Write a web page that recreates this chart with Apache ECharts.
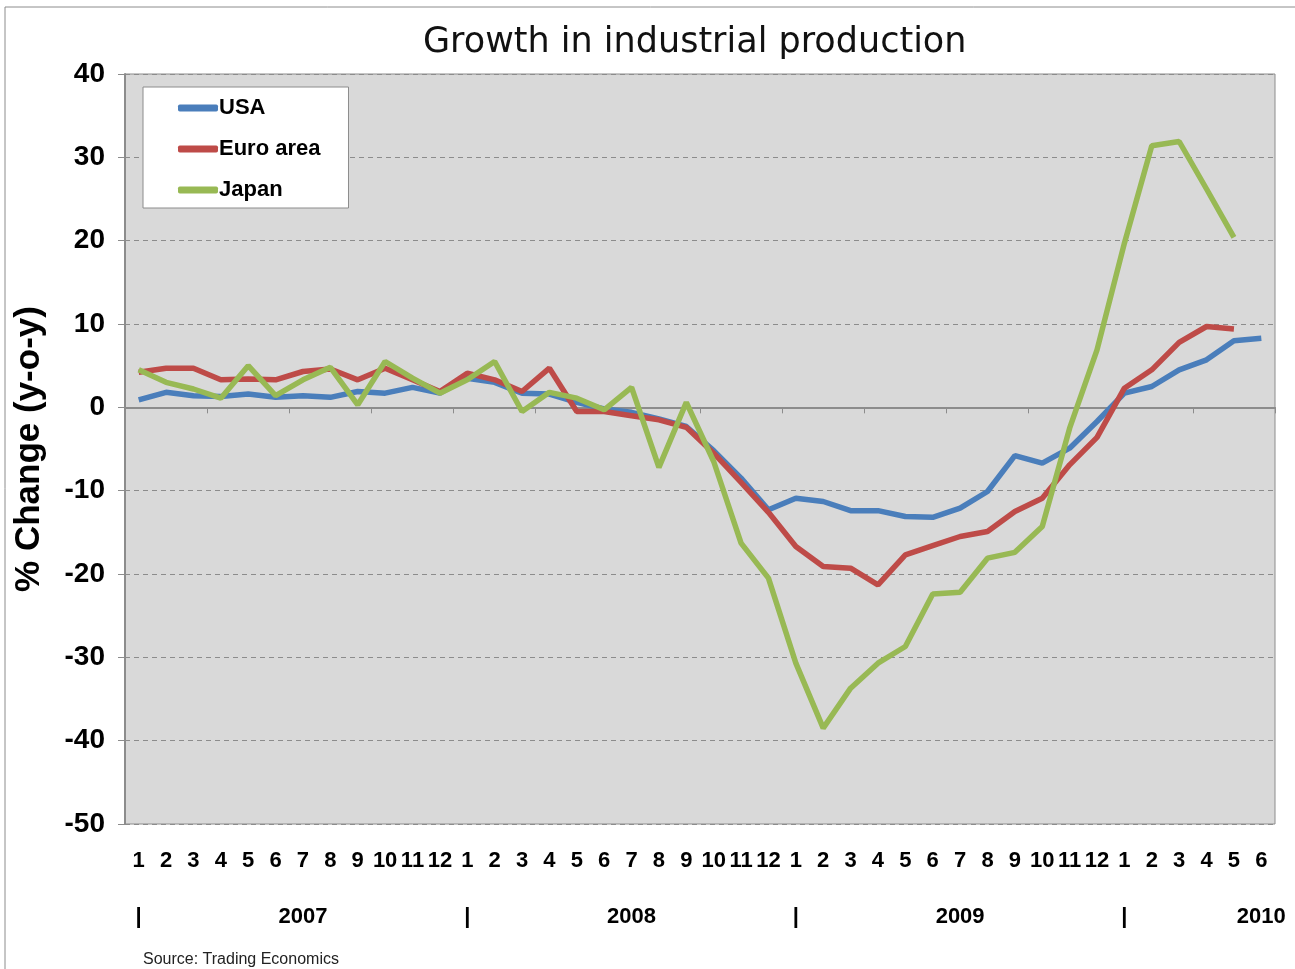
<!DOCTYPE html>
<html>
<head>
<meta charset="utf-8">
<script src="https://cdn.jsdelivr.net/npm/echarts@6/dist/echarts.min.js"></script>
<style>
  html, body { margin: 0; padding: 0; background: #fff; }
  #main { width: 1295px; height: 969px; }
</style>
</head>
<body>
<div id="main"></div>
<script>
// monthly categories, 2007-01 .. 2010-06
var months = [];
for (var y = 2007; y <= 2010; y++) {
    for (var m = 1; m <= 12; m++) {
        if (y === 2010 && m > 6) break;
        months.push(y + '-' + m);
    }
}

// % change y-o-y
var usa = [0.9, 1.8, 1.4, 1.3, 1.6, 1.2, 1.4, 1.2, 1.9, 1.7, 2.4, 1.7,
           3.5, 3.0, 1.7, 1.6, 0.6, -0.2, -0.6, -1.4, -2.3, -5.2, -8.5, -12.3,
           -10.9, -11.3, -12.4, -12.4, -13.1, -13.2, -12.1, -10.1, -5.8, -6.7, -4.9, -1.7,
           1.7, 2.5, 4.5, 5.7, 8.0, 8.3];
var euro = [4.2, 4.7, 4.7, 3.3, 3.4, 3.3, 4.3, 4.6, 3.3, 4.7, 3.3, 1.9,
            4.1, 3.3, 1.9, 4.7, -0.5, -0.5, -1.0, -1.5, -2.4, -5.5, -9.0, -12.6,
            -16.7, -19.1, -19.3, -21.3, -17.7, -16.6, -15.5, -14.9, -12.5, -10.9, -6.9, -3.6,
            2.3, 4.5, 7.8, 9.7, 9.4, null];
var japan = [4.5, 3.0, 2.2, 1.1, 5.0, 1.4, 3.3, 4.8, 0.3, 5.5, 3.5, 1.7,
             3.3, 5.5, -0.5, 1.8, 1.1, -0.3, 2.4, -7.2, 0.6, -6.5, -16.3, -20.5,
             -30.7, -38.5, -33.7, -30.7, -28.7, -22.4, -22.2, -18.1, -17.4, -14.3, -2.5, 6.9,
             19.7, 31.4, 31.9, 26.2, 20.4, null];

var narrow = '"Liberation Sans Narrow", "Arial Narrow", "Liberation Sans", sans-serif';

(function () {
    var myChart = echarts.init(document.getElementById('main'));
    var option = {
        animation: false,
        backgroundColor: '#fff',
        title: [
            {
                text: 'Growth in industrial production',
                left: 418,
                top: 20,
                textStyle: { fontFamily: '"DejaVu Sans", sans-serif', fontWeight: 'normal', fontSize: 35, color: '#111' }
            },
            {
                text: 'Source: Trading Economics',
                left: 138,
                top: 947,
                textStyle: { fontFamily: narrow, fontWeight: 'normal', fontSize: 16, color: '#222' }
            }
        ],
        graphic: [{
            type: 'rect',
            shape: { x: 5, y: 7, width: 1300, height: 980 },
            style: { fill: 'none', stroke: '#8c8c8c', lineWidth: 1 },
            silent: true
        }],
        legend: {
            orient: 'vertical',
            left: 143,
            top: 87,
            padding: [10, 28, 7, 35],
            itemGap: 19,
            itemWidth: 40,
            itemHeight: 7,
            icon: 'roundRect',
            backgroundColor: '#fff',
            borderColor: '#8c8c8c',
            borderWidth: 1,
            borderRadius: 0,
            textStyle: { fontFamily: narrow, fontWeight: 'bold', fontSize: 22, color: '#000', padding: [0, 0, 0, -4] },
            data: ['USA', 'Euro area', 'Japan']
        },
        grid: {
            left: 125,
            right: 20,
            top: 74,
            bottom: 145,
            show: true,
            backgroundColor: '#d9d9d9',
            borderColor: '#8c8c8c',
            borderWidth: 1
        },
        xAxis: [
            {   // month labels
                type: 'category',
                data: months,
                position: 'bottom',
                axisLine: { show: false, onZero: false },
                axisTick: { show: false },
                axisLabel: {
                    interval: 0,
                    margin: 26,
                    fontFamily: narrow,
                    fontWeight: 'bold',
                    fontSize: 22,
                    color: '#000',
                    formatter: function (v) { return v.split('-')[1]; }
                },
                splitLine: { show: false }
            },
            {   // zero line with ticks
                type: 'category',
                data: months,
                position: 'top',
                axisLine: { show: true, onZero: true, lineStyle: { color: '#8c8c8c', width: 2 } },
                axisTick: { show: true, inside: true, length: 6, lineStyle: { color: '#8c8c8c', width: 1 } },
                axisLabel: { show: false },
                splitLine: { show: false }
            },
            {   // year labels
                type: 'category',
                data: months,
                position: 'bottom',
                offset: 56,
                axisLine: { show: false, onZero: false },
                axisTick: { show: false },
                axisLabel: {
                    interval: 0,
                    margin: 26,
                    fontFamily: narrow,
                    fontWeight: 'bold',
                    fontSize: 22,
                    color: '#000',
                    formatter: function (v) {
                        var p = v.split('-');
                        if (p[1] === '1') return '|';
                        if (p[1] === '7' || (p[0] === '2010' && p[1] === '6')) return p[0];
                        return '';
                    }
                },
                splitLine: { show: false }
            }
        ],
        yAxis: {
            type: 'value',
            min: -50,
            max: 40,
            interval: 10,
            name: '% Change (y-o-y)',
            nameLocation: 'middle',
            nameGap: 78,
            nameTextStyle: { fontFamily: '"Liberation Sans", Arial, sans-serif', fontWeight: 'bold', fontSize: 35, color: '#000' },
            axisLine: { show: true, lineStyle: { color: '#8c8c8c', width: 2 } },
            axisTick: { show: true, length: 7, lineStyle: { color: '#8c8c8c' } },
            axisLabel: { margin: 20, padding: [6, 0, 0, 0], fontFamily: narrow, fontWeight: 'bold', fontSize: 28, color: '#000' },
            splitLine: { show: true, lineStyle: { color: '#8c8c8c', type: [5, 4], width: 1 } }
        },
        series: [
            {
                name: 'USA', type: 'line', xAxisIndex: 0, data: usa,
                showSymbol: false, symbol: 'none',
                lineStyle: { color: '#4a7ebb', width: 5.5 }, itemStyle: { color: '#4a7ebb' }
            },
            {
                name: 'Euro area', type: 'line', xAxisIndex: 0, data: euro,
                showSymbol: false, symbol: 'none',
                lineStyle: { color: '#be4b48', width: 5.5 }, itemStyle: { color: '#be4b48' }
            },
            {
                name: 'Japan', type: 'line', xAxisIndex: 0, data: japan,
                showSymbol: false, symbol: 'none',
                lineStyle: { color: '#98b954', width: 5.5 }, itemStyle: { color: '#98b954' }
            }
        ]
    };

    myChart.setOption(option);
})();
</script>
</body>
</html>
